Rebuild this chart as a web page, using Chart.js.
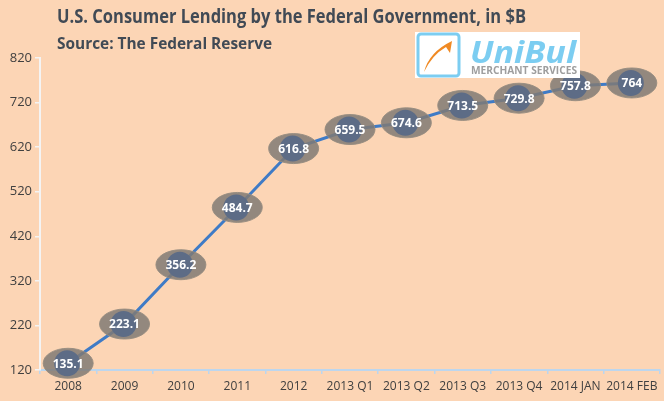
<!DOCTYPE html>
<html>
<head>
<meta charset="utf-8">
<script src="https://cdn.jsdelivr.net/npm/chart.js@4"></script>
<style>
  html, body { margin: 0; padding: 0; background: #fcd5b5; }
  #wrap { width: 664px; height: 401px; position: relative; }
</style>
</head>
<body>
<div id="wrap"><canvas id="chart" width="664" height="401"></canvas></div>
<script>
// data
const categories = ['2008', '2009', '2010', '2011', '2012', '2013 Q1', '2013 Q2', '2013 Q3', '2013 Q4', '2014 JAN', '2014 FEB'];
const lending = [135.1, 223.1, 356.2, 484.7, 616.8, 659.5, 674.6, 713.5, 729.8, 757.8, 764];
const yTicks = [120, 220, 320, 420, 520, 620, 720, 820];

const TITLE = 'U.S. Consumer Lending by the Federal Government, in $B';
const SUBTITLE = 'Source: The Federal Reserve';
const FONT = '"Open Sans", "Noto Sans", sans-serif';

// draws text squeezed to a given width
function fitText(ctx, text, x, y, width) {
    let w = ctx.measureText(text).width;
    ctx.save();
    ctx.translate(x, y);
    ctx.scale(width / w, 1);
    ctx.fillText(text, 0, 0);
    ctx.restore();
}

const background = {
    id: 'background',
    beforeDraw(chart) {
        let ctx = chart.ctx;
        ctx.save();
        ctx.fillStyle = '#fcd5b5';
        ctx.fillRect(0, 0, chart.width, chart.height);
        ctx.restore();
    }
};

//Title, subtitle and the logo box
const header = {
    id: 'header',
    afterDraw(chart) {
        let ctx = chart.ctx;
        ctx.save();
        ctx.fillStyle = '#414a55';
        ctx.textBaseline = 'middle';
        ctx.textAlign = 'left';
        ctx.font = 'bold 20px ' + FONT;
        fitText(ctx, TITLE, 57, 17, 469);
        ctx.font = 'bold 16px ' + FONT;
        fitText(ctx, SUBTITLE, 57, 44, 215);

        // logo
        ctx.fillStyle = '#ffffff';
        ctx.fillRect(415, 32, 165, 46);
        ctx.strokeStyle = '#7ccdf1';
        ctx.lineWidth = 3;
        ctx.beginPath();
        ctx.roundRect(418, 34, 41, 42, 3);
        ctx.stroke();
        ctx.fillStyle = '#f08a24';
        ctx.beginPath();
        ctx.moveTo(424, 72);
        ctx.quadraticCurveTo(429, 52, 452, 41);
        ctx.lineTo(450, 53);
        ctx.lineTo(446, 47);
        ctx.quadraticCurveTo(432, 55, 424, 72);
        ctx.fill();
        ctx.fillStyle = '#7ccdf1';
        ctx.font = 'italic bold 30px ' + FONT;
        ctx.textBaseline = 'alphabetic';
        fitText(ctx, 'UniBul', 470, 63, 106);
        ctx.fillStyle = '#9e9e9e';
        ctx.font = 'bold 11px ' + FONT;
        ctx.textBaseline = 'middle';
        fitText(ctx, 'MERCHANT SERVICES', 471, 71, 106);
        ctx.restore();
    }
};

//Grey ellipse markers with the value written in them
const markers = {
    id: 'markers',
    afterDatasetsDraw(chart) {
        let ctx = chart.ctx;
        let meta = chart.getDatasetMeta(0);
        ctx.save();
        meta.data.forEach((pt, i) => {
            ctx.beginPath();
            ctx.ellipse(pt.x, pt.y, 25, 15, 0, 0, Math.PI * 2);
            ctx.fillStyle = 'rgba(128, 122, 116, 0.85)';
            ctx.fill();
            ctx.strokeStyle = 'rgba(150, 140, 128, 0.9)';
            ctx.lineWidth = 1;
            ctx.stroke();
            ctx.beginPath();
            ctx.arc(pt.x - 1, pt.y, 13, 0, Math.PI * 2);
            ctx.fillStyle = '#5d6c86';
            ctx.fill();
            ctx.fillStyle = '#ffffff';
            ctx.font = 'bold 12px ' + FONT;
            ctx.textAlign = 'center';
            ctx.textBaseline = 'middle';
            ctx.fillText(String(lending[i]), pt.x, pt.y + 1);
        });
        ctx.restore();
    }
};

new Chart(document.getElementById('chart'), {
    type: 'line',
    data: {
        labels: categories,
        datasets: [{
            data: lending,
            borderColor: '#3f7bc6',
            borderWidth: 3,
            pointRadius: 0,
            tension: 0
        }]
    },
    options: {
        responsive: false,
        animation: false,
        layout: { padding: { top: 58, right: 4, left: 0, bottom: 0 } },
        plugins: {
            legend: { display: false },
            tooltip: { enabled: false }
        },
        scales: {
            x: {
                offset: true,
                grid: {
                    offset: true,
                    drawOnChartArea: false,
                    tickLength: 4,
                    color: '#bcd6ee',
                    lineWidth: 1.5
                },
                border: { color: '#bcd6ee', width: 2 },
                ticks: {
                    color: '#404040',
                    font: { family: FONT, size: 12 },
                    padding: 5,
                    maxRotation: 0,
                    autoSkip: false
                },
                afterFit(axis) { axis.height = 31; }
            },
            y: {
                min: 120,
                max: 820,
                afterBuildTicks(axis) { axis.ticks = yTicks.map(v => ({ value: v })); },
                grid: {
                    drawOnChartArea: false,
                    tickLength: 5,
                    color: '#f4f4f4',
                    lineWidth: 1.5
                },
                border: { color: '#f4f4f4', width: 2 },
                ticks: {
                    color: '#404040',
                    font: { family: FONT, size: 13 },
                    padding: 3
                },
                afterFit(axis) { axis.width = 40; }
            }
        }
    },
    plugins: [background, markers, header]
});
</script>
</body>
</html>
